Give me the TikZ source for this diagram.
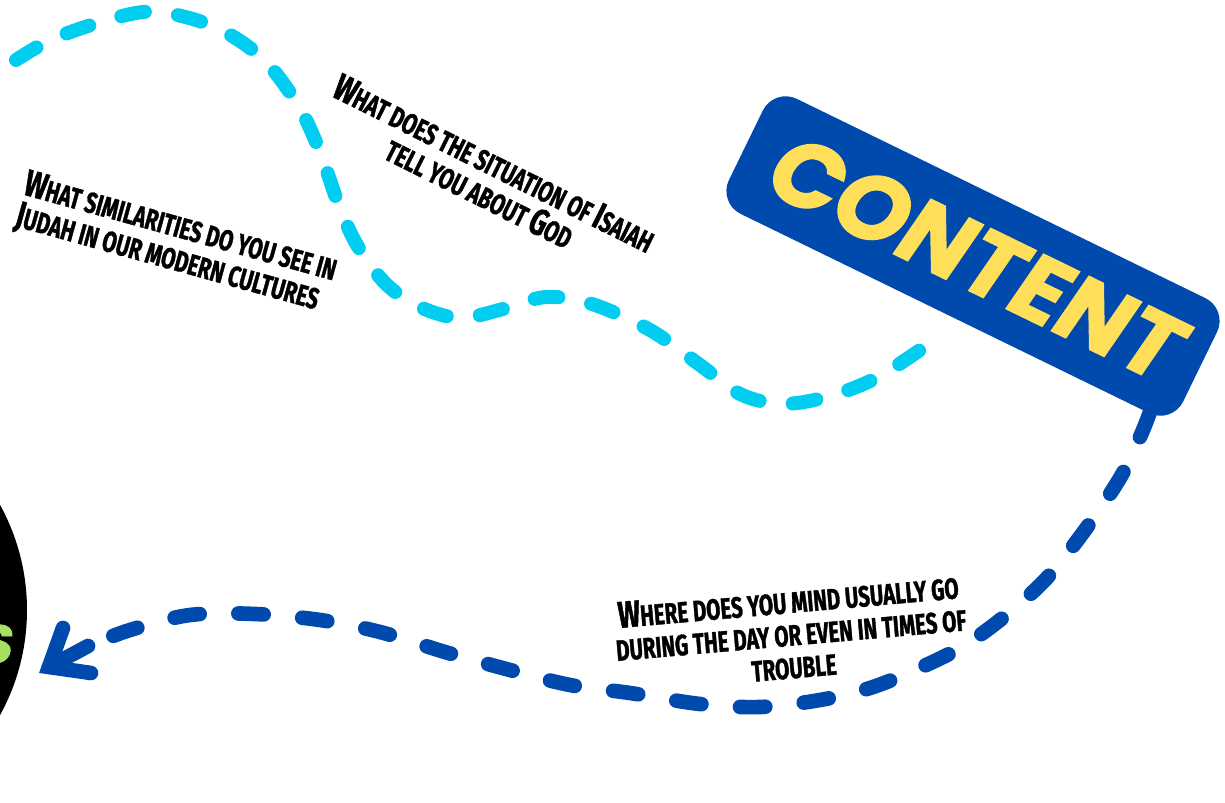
\documentclass[tikz,border=0pt]{standalone}
\usepackage{fontspec}
\usetikzlibrary{calc}
\newfontfamily\qfont{Fira Sans}[FakeStretch=0.7, BoldFeatures={FakeBold=1.2}]
\newfontfamily\headfont{Poppins}[FakeSlant=0.15, BoldFeatures={FakeBold=1.5}]
\definecolor{cyanline}{HTML}{00CDF0}
\definecolor{contentblue}{HTML}{004AAD}
\definecolor{contentyellow}{HTML}{FFDE59}
\definecolor{topicgreen}{HTML}{A8E063}
\newcommand\qinit[1]{{\fontsize{28}{28}\selectfont #1}}

\begin{document}
\begin{tikzpicture}[x=0.75pt,y=-0.75pt,
    question/.style={font=\qfont\bfseries\fontsize{22}{24.5}\selectfont, text=black, inner sep=0pt, align=center},
    cyandash/.style={draw=cyanline, line width=10.5pt, line cap=round, dash pattern=on 18pt off 25pt},
    bluedash/.style={draw=contentblue, line width=11pt, line cap=round, dash pattern=on 19pt off 29pt},
    bluehead/.style={draw=contentblue, line width=11pt, line cap=round, line join=miter}]
    % 画布范围
    \useasboundingbox (0,0) rectangle (1225,803);
    \clip (0,0) rectangle (1225,803);

    % 左侧黑色圆
    \node[circle, fill=black, minimum size=327pt, inner sep=0pt] (topic) at (-191,610) {};
    \node[anchor=east, text=topicgreen, inner sep=0pt, font=\headfont\bfseries\fontsize{40}{40}\selectfont] (topicword) at (11,644) {S};

    % CONTENT 标签
    \node[fill=contentblue, rounded corners=19pt, minimum width=379pt, minimum height=96pt, rotate=-26, inner sep=0pt,
          text=contentyellow, font=\headfont\bfseries\fontsize{70}{70}\selectfont] (content) at (973,256) {CONTENT};

    % 青色虚线
    \coordinate (cyanstart) at (16,60);
    \coordinate (cyanend) at (940,336);
    \draw[cyandash] plot[smooth, tension=0.55] coordinates {(cyanstart) (55,38) (118,17) (160,12) (215,27) (262,58) (298,105) (320,152) (338,203) (357,245) (386,284) (420,307) (460,318) (503,309) (546,297) (592,304) (650,330) (700,365) (740,394) (782,404) (830,396) (880,376) (cyanend)};

    % 蓝色虚线箭头
    \coordinate (blueA) at ($(content.south east)!0.05!(content.south west)$);
    \coordinate (bluebase) at (88,646);
    \coordinate (bluetip) at (49,667);
    \draw[bluedash] plot[smooth, tension=0.55] coordinates {(blueA) (1140,437) (1120,478) (1085,530) (1045,580) (1000,620) (960,648) (915,670) (870,688) (820,700) (760,707) (700,704) (630,693) (570,685) (510,670) (445,652) (380,632) (320,620) (255,614) (190,615) (130,630) (bluebase)};
    \draw[bluehead] (63,628) -- (bluetip) -- (91,673);
    \draw[bluehead] (bluetip) -- (bluebase);

    % 问题文字
    \node[question, rotate=-26.5] (situation) at (487,178) {\qinit{W}HAT DOES THE SITUATION OF \qinit{I}SAIAH\\TELL YOU ABOUT \qinit{G}OD};
    \node[question, rotate=-15.5, anchor=north west, align=left] (similar) at (29,169) {\qinit{W}HAT SIMILARITIES DO YOU SEE IN\\\qinit{J}UDAH IN OUR MODERN CULTURES};
    \node[question, rotate=5] (mind) at (791,633) {\qinit{W}HERE DOES YOU MIND USUALLY GO\\DURING THE DAY OR EVEN IN TIMES OF\\TROUBLE};
\end{tikzpicture}
\end{document}
